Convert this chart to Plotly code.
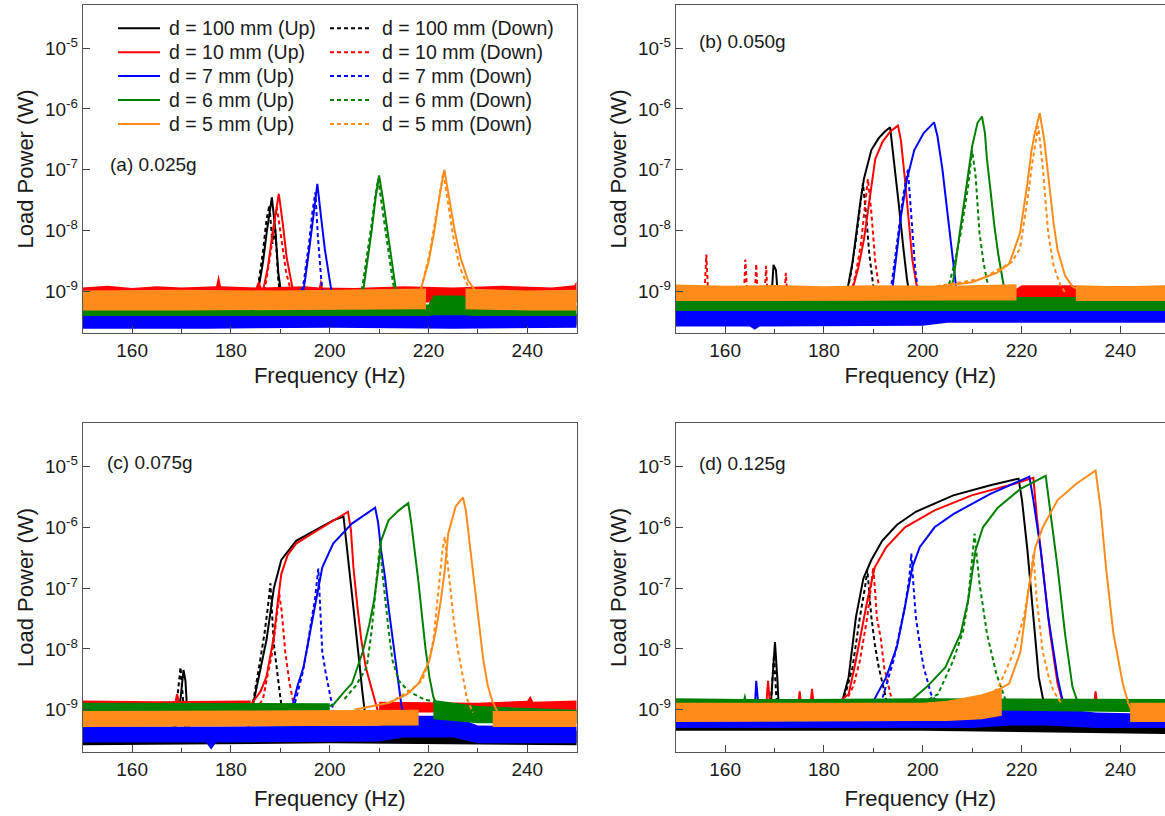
import plotly.graph_objects as go

# ---------------- categories / labels ----------------
SERIES_LABELS = ["d = 100 mm", "d = 10 mm", "d = 7 mm", "d = 6 mm", "d = 5 mm"]
SERIES_COLORS = ["#000000", "#FF0000", "#0000FF", "#008000", "#FF8C1A"]
PANEL_LABELS = ["(a) 0.025g", "(b) 0.050g", "(c) 0.075g", "(d) 0.125g"]
FREQ_TICKS = [160, 180, 200, 220, 240]
FREQ_MINOR = [170, 190, 210, 230]
POWER_TICKS = [1e-9, 1e-8, 1e-7, 1e-6, 1e-5]
POWER_TICKTEXT = ["10<sup>-9</sup>", "10<sup>-8</sup>", "10<sup>-7</sup>", "10<sup>-6</sup>", "10<sup>-5</sup>"]

# sweeps: (frequency Hz, power W); None separates disconnected pieces
# ---------------- panel (a) 0.025g ----------------
A_BLACK_UP = [(184.5, 4e-10), (185.5, 1.0e-9), (186.5, 3e-9), (187.3, 1.0e-8), (188.3, 3.5e-8), (189.0, 1.0e-8),
              (189.6, 2e-9), (190.5, 6e-10), (191.5, 4e-10)]
A_BLACK_DOWN = [(184.8, 4e-10), (185.5, 1.2e-9), (186.5, 4.5e-9), (187.2, 1.5e-8), (187.8, 2.6e-8), (188.4, 6e-9),
                (189.0, 1.0e-8), (189.6, 1.5e-9), (190.3, 5e-10)]
A_RED_UP = [(186.5, 1.0e-9), (187.5, 2.5e-9), (188.5, 1.0e-8), (189.7, 4.0e-8), (190.5, 1.3e-8), (191.3, 3.5e-9),
            (192.5, 1.1e-9)]
A_RED_DOWN = [(186.8, 1.0e-9), (188.0, 4e-9), (189.3, 2.4e-8), (190.2, 8e-9), (191.2, 2e-9), (192.3, 9e-10)]
A_BLUE_UP = [(194.0, 5e-10), (195.0, 1.5e-9), (196.0, 6e-9), (196.8, 2.2e-8), (197.5, 5.8e-8), (198.2, 1.8e-8),
             (199.0, 5e-9), (200.0, 1.5e-9), (201.0, 5e-10)]
A_BLUE_DOWN = [(193.8, 6e-10), (194.8, 1.5e-9), (195.8, 6e-9), (196.5, 2e-8), (197.1, 4.2e-8), (197.6, 8e-9),
               (198.3, 1.5e-9), (199.0, 5e-10)]
A_GREEN_UP = [(206.5, 7e-10), (207.5, 2.5e-9), (208.5, 1.0e-8), (209.3, 3.5e-8), (210.0, 8.0e-8), (210.8, 3.2e-8),
              (211.8, 8e-9), (212.8, 2.2e-9), (213.6, 8e-10)]
A_GREEN_DOWN = [(206.3, 8e-10), (207.4, 3e-9), (208.5, 1.3e-8), (209.2, 3.5e-8), (209.8, 7e-8), (210.5, 2.8e-8),
                (211.5, 7e-9), (212.6, 1.8e-9), (213.3, 8e-10)]
A_ORANGE_UP = [(218.5, 1.1e-9), (220.0, 3e-9), (221.2, 1.0e-8), (222.2, 3.5e-8), (223.2, 1.0e-7), (224.2, 3.5e-8),
               (225.3, 1.0e-8), (226.5, 3.5e-9), (228.0, 1.5e-9), (229.5, 1.0e-9)]
A_ORANGE_DOWN = [(218.5, 1.1e-9), (220.0, 3.5e-9), (221.2, 1.2e-8), (222.2, 4e-8), (223.0, 9e-8), (223.9, 3e-8),
                 (225.0, 8e-9), (226.3, 2.5e-9), (228.0, 1.2e-9)]
# noise floor envelopes: segments of (frequency, lower, upper)
A_BAND_BLACK = [[(150, 2.8e-10, 4.0e-10), (200, 2.9e-10, 4.3e-10), (250, 2.8e-10, 4.0e-10)]]
A_BAND_RED = [[(150, 6.5e-10, 1.15e-9), (155, 6.5e-10, 1.22e-9), (160, 6.5e-10, 1.12e-9), (165, 6.5e-10, 1.2e-9),
               (170, 6.5e-10, 1.15e-9), (177, 6.5e-10, 1.2e-9), (177.5, 6.5e-10, 1.9e-9), (178, 6.5e-10, 1.2e-9),
               (185, 6.5e-10, 1.15e-9), (185.6, 6.5e-10, 1.5e-9), (186.2, 6.5e-10, 1.15e-9), (195, 6.5e-10, 1.2e-9),
               (197.8, 6.5e-10, 1.15e-9), (198.2, 6.5e-10, 1.6e-9), (198.6, 6.5e-10, 1.15e-9),
               (205, 6.5e-10, 1.12e-9), (215, 6.5e-10, 1.2e-9), (225, 6.5e-10, 1.15e-9), (235, 6.5e-10, 1.22e-9),
               (245, 6.5e-10, 1.15e-9), (249.5, 6.5e-10, 1.25e-9), (250, 6.5e-10, 1.45e-9)]]
A_BAND_BLUE = [[(150, 2.4e-10, 4.3e-10), (175, 2.4e-10, 4.4e-10), (200, 2.5e-10, 4.3e-10), (225, 2.4e-10, 4.4e-10),
                (250, 2.5e-10, 4.3e-10)]]
A_BAND_GREEN = [[(150, 3.9e-10, 5.8e-10), (200, 3.9e-10, 5.8e-10), (220, 3.9e-10, 6e-10), (221, 4e-10, 8.5e-10),
                 (227, 4e-10, 8.5e-10), (229, 3.9e-10, 6e-10), (250, 3.9e-10, 5.8e-10)]]
A_BAND_ORANGE = [[(150, 4.8e-10, 1.02e-9), (170, 4.8e-10, 1.05e-9), (190, 4.8e-10, 1.02e-9), (219.5, 5e-10, 1.1e-9)],
                 [(227.5, 5e-10, 1.1e-9), (240, 4.8e-10, 1.02e-9), (250, 4.8e-10, 1.05e-9)]]

# ---------------- panel (b) 0.050g ----------------
B_BLACK_UP = [(169.3, 6e-10), (169.8, 2.7e-9), (170.3, 2.2e-9), (170.8, 6e-10), None, (183.5, 5e-10),
              (184.7, 1.0e-9), (185.8, 3e-9), (186.6, 1.0e-8), (187.4, 3e-8), (188.1, 7e-8), (189.6, 2.1e-7),
              (191.1, 3.3e-7), (192.3, 4.2e-7), (193.4, 5.0e-7), (194.3, 1.2e-7), (195.2, 2.5e-8), (196.1, 5e-9),
              (196.8, 1.6e-9), (197.5, 7e-10)]
B_BLACK_DOWN = [(184.5, 8e-10), (185.5, 2e-9), (186.5, 7e-9), (187.3, 2.5e-8), (187.9, 6e-8), (188.5, 2e-8),
                (189.2, 4e-9), (190.0, 1.2e-9), (191.0, 6e-10)]
B_RED_UP = [(185.7, 1.0e-9), (187.0, 2.5e-9), (188.1, 7e-9), (189.2, 3.2e-8), (190.4, 1.5e-7), (191.9, 2.9e-7),
            (193.5, 4.3e-7), (195.0, 5.3e-7), (195.6, 3e-7), (196.4, 7e-8), (197.2, 1.5e-8), (197.9, 3.3e-9),
            (198.8, 1.2e-9), (199.5, 6e-10)]
B_RED_DOWN = [(155.8, 8e-10), (156.2, 4e-9), (156.6, 8e-10), None, (163.8, 8e-10), (164.1, 3.3e-9), (164.5, 8e-10),
              None, (166.0, 8e-10), (166.3, 2.8e-9), (166.6, 8e-10), None, (168.0, 8e-10), (168.3, 2.6e-9),
              (168.6, 8e-10), None, (172.0, 8e-10), (172.3, 2e-9), (172.6, 8e-10), None, (185.5, 9e-10),
              (186.5, 2e-9), (187.5, 6e-9), (188.3, 2.5e-8), (188.9, 7e-8), (189.6, 2e-8), (190.4, 3e-9),
              (191.2, 1.1e-9), (192.0, 6e-10)]
B_BLUE_UP = [(193.0, 6e-10), (193.8, 1.0e-9), (194.7, 4e-9), (195.6, 1.7e-8), (196.8, 6.9e-8), (198.3, 2.1e-7),
             (200.2, 4e-7), (202.3, 6e-7), (203.0, 3.5e-7), (204.0, 1e-7), (204.7, 3.2e-8), (205.5, 8e-9),
             (206.2, 2.6e-9), (206.8, 1.1e-9), (207.5, 5e-10)]
B_BLUE_DOWN = [(193.0, 6e-10), (193.8, 1.5e-9), (194.5, 4e-9), (195.2, 1.2e-8), (196.0, 3.5e-8), (197.0, 1.0e-7),
               (197.5, 3e-8), (198.0, 8e-9), (198.5, 2.2e-9), (199.2, 8e-10)]
B_GREEN_UP = [(205.0, 8e-10), (206.2, 1.5e-9), (207.3, 7e-9), (208.4, 3.2e-8), (209.3, 1.0e-7), (210.0, 2.4e-7),
              (211.1, 5.9e-7), (212.0, 7.5e-7), (212.6, 4e-7), (213.0, 1.5e-7), (213.8, 4e-8), (214.5, 1.2e-8),
              (215.3, 4e-9), (216.0, 1.8e-9), (216.8, 8e-10)]
B_GREEN_DOWN = [(205.0, 1.0e-9), (206.5, 3e-9), (207.7, 9e-9), (208.5, 2.5e-8), (209.2, 5.3e-8), (210.0, 2.1e-7),
                (210.7, 8e-8), (211.5, 9e-9), (212.3, 3e-9), (213.0, 1.5e-9), (213.8, 8e-10)]
B_ORANGE_UP = [(190.0, 1.0e-9), (200.0, 1.1e-9), (210.0, 1.4e-9), (215.0, 2e-9), (217.5, 2.8e-9), (219.7, 9e-9),
               (221.2, 6e-8), (222.0, 2e-7), (222.7, 4e-7), (223.7, 8.5e-7), (224.6, 3.1e-7), (225.8, 4e-8),
               (226.5, 1.3e-8), (227.3, 4.8e-9), (228.8, 1.8e-9), (230.3, 1.2e-9), (232.0, 1.0e-9)]
B_ORANGE_DOWN = [(200.0, 1.1e-9), (212.0, 1.6e-9), (218.0, 3e-9), (219.7, 5e-9), (221.2, 3.2e-8), (222.3, 1.5e-7),
                 (223.4, 5.2e-7), (224.3, 1.1e-7), (225.4, 9e-9), (226.5, 2.6e-9), (227.8, 1.3e-9), (229.0, 9e-10)]
B_BAND_BLACK = [[(150, 3.2e-10, 5e-10), (250, 3.2e-10, 5e-10)]]
B_BAND_RED = [[(150, 7e-10, 1.2e-9), (205, 6e-10, 1.1e-9), (210, 5.5e-10, 8.5e-10), (217, 5.5e-10, 8.5e-10),
               (220, 7.5e-10, 1.25e-9), (230, 7.5e-10, 1.25e-9), (232, 7e-10, 1.2e-9), (250, 7e-10, 1.2e-9)]]
B_BAND_BLUE = [[(150, 2.6e-10, 4.8e-10), (165, 2.6e-10, 5e-10), (166, 2.3e-10, 5.4e-10), (167, 2.6e-10, 5e-10),
                (200, 2.7e-10, 5e-10), (205, 3e-10, 6.8e-10), (250, 3e-10, 6.2e-10)]]
B_BAND_GREEN = [[(150, 4.7e-10, 8e-10), (200, 4.7e-10, 8e-10), (250, 4.7e-10, 8e-10)]]
B_BAND_ORANGE = [[(150, 6.9e-10, 1.28e-9), (160, 6.9e-10, 1.22e-9), (170, 6.9e-10, 1.26e-9), (180, 6.9e-10, 1.2e-9),
                  (190, 6.9e-10, 1.25e-9), (205, 7e-10, 1.22e-9), (219, 7e-10, 1.3e-9)],
                 [(231, 6.9e-10, 1.25e-9), (240, 6.9e-10, 1.2e-9), (250, 6.9e-10, 1.25e-9)]]

# ---------------- panel (c) 0.075g ----------------
C_BLACK_UP = [(168.8, 5e-10), (169.8, 1.5e-9), (170.4, 4.5e-9), (170.8, 3e-9), (171.2, 8e-10), (171.6, 4e-10), None,
              (183.5, 5e-10), (184.5, 1.2e-9), (185.7, 3.4e-9), (187.2, 1.4e-8), (188.7, 1e-7), (190.2, 2.9e-7),
              (193.2, 6e-7), (197.0, 9e-7), (200.7, 1.3e-6), (202.8, 1.5e-6), (203.6, 4e-7), (204.4, 1e-7),
              (205.2, 2.5e-8), (206.0, 6e-9), (206.6, 2e-9), (207.2, 8e-10)]
C_BLACK_DOWN = [(168.5, 5e-10), (169.3, 2e-9), (169.8, 5e-9), (170.3, 1.5e-9), (170.8, 5e-10), None,
                (183.5, 6e-10), (184.6, 1.5e-9), (185.7, 5e-9), (186.8, 1.8e-8), (187.5, 5e-8), (188.0, 1.2e-7),
                (188.4, 3e-8), (188.7, 1.2e-8), (189.4, 4e-9), (190.2, 1.2e-9), (191.0, 5e-10)]
C_RED_UP = [(168.6, 1.1e-9), (169.1, 1.8e-9), (169.6, 1.1e-9), None, (184.0, 1.2e-9), (186.0, 2e-9), (187.2, 3.5e-9),
            (188.0, 8e-9), (188.7, 1.6e-8), (189.5, 6e-8), (190.2, 1.7e-7), (191.5, 3.5e-7), (193.2, 5.4e-7),
            (197.0, 8.4e-7), (200.7, 1.3e-6), (203.7, 1.8e-6), (204.3, 9e-7), (204.8, 2.2e-7), (205.6, 5e-8),
            (206.4, 1.4e-8), (207.3, 5e-9), (208.2, 2.7e-9), (209.3, 1.2e-9), (210.0, 8e-10)]
C_RED_DOWN = [(185.0, 1e-9), (186.5, 1.5e-9), (187.5, 4e-9), (188.3, 8e-9), (189.2, 3e-8), (189.8, 8e-8),
              (190.3, 4e-8), (191.0, 9e-9), (191.8, 3e-9), (192.5, 1.5e-9), (193.3, 9e-10)]
C_BLUE_UP = [(191.5, 8e-10), (192.5, 1.2e-9), (193.5, 2.5e-9), (194.7, 5e-9), (195.8, 1.5e-8), (197.0, 4.9e-8),
             (198.5, 2.2e-7), (200.7, 5.4e-7), (204.5, 1.15e-6), (209.2, 2.1e-6), (209.8, 1.2e-6), (210.4, 4.2e-7),
             (211.2, 1.5e-7), (211.9, 4.9e-8), (212.7, 1.6e-8), (213.4, 6.5e-9), (214.0, 2.5e-9), (214.5, 1.2e-9),
             (215.2, 6e-10)]
C_BLUE_DOWN = [(192.5, 1e-9), (193.2, 1.5e-9), (194.5, 4e-9), (195.5, 1.1e-8), (196.3, 3e-8), (197.0, 6.3e-8),
               (197.7, 2.1e-7), (198.1, 5e-8), (198.5, 9e-9), (199.2, 4e-9), (200.0, 1.8e-9), (200.8, 9e-10)]
C_GREEN_UP = [(199.0, 1.1e-9), (200.7, 1.2e-9), (203.0, 2e-9), (204.5, 2.7e-9), (206.7, 9e-9), (208.0, 2.5e-8),
              (209.0, 6.3e-8), (209.8, 2e-7), (210.4, 6e-7), (211.9, 1.3e-6), (214.0, 1.9e-6), (215.9, 2.5e-6),
              (216.5, 1.2e-6), (217.2, 4.2e-7), (218.0, 1.2e-7), (218.7, 3.4e-8), (219.4, 1e-8), (220.2, 3.4e-9),
              (221.0, 1.6e-9), (222.0, 1.1e-9)]
C_GREEN_DOWN = [(203.0, 1.5e-9), (205.3, 2.5e-9), (207.5, 5e-9), (208.5, 2e-8), (209.3, 1e-7), (209.8, 3e-7),
                (210.2, 5.4e-7), (210.6, 2e-7), (211.2, 6.3e-8), (212.0, 1.8e-8), (212.7, 6.5e-9), (214.0, 3e-9),
                (216.0, 2e-9), (219.0, 1.5e-9), (222.0, 1.3e-9)]
C_ORANGE_UP = [(205.0, 1e-9), (212.0, 1.3e-9), (215.7, 1.8e-9), (218.0, 2.7e-9), (220.2, 6.5e-9), (221.5, 2e-8),
               (222.5, 6.3e-8), (223.3, 2e-7), (224.0, 7.9e-7), (225.5, 2.2e-6), (227.0, 3.1e-6), (227.6, 1.8e-6),
               (228.1, 7.9e-7), (228.8, 2.5e-7), (229.6, 6.3e-8), (230.3, 2e-8), (231.1, 6.5e-9), (232.0, 2.5e-9),
               (232.9, 1.4e-9), (234.0, 9e-10)]
C_ORANGE_DOWN = [(212.0, 1.3e-9), (216.0, 2e-9), (218.7, 3e-9), (220.0, 6e-9), (221.0, 1.4e-8), (222.1, 1.2e-7),
                 (222.8, 4e-7), (223.3, 7e-7), (223.8, 3e-7), (224.4, 1e-7), (225.1, 3e-8), (225.9, 1e-8),
                 (226.8, 4e-9), (227.8, 1.5e-9), (229.0, 9e-10)]
C_BAND_BLACK = [[(150, 2.6e-10, 4.5e-10), (200, 2.8e-10, 5e-10), (250, 2.6e-10, 4.5e-10)]]
C_BAND_RED = [[(150, 9e-10, 1.42e-9), (165, 9e-10, 1.38e-9), (184, 9e-10, 1.42e-9)],
              [(210, 9e-10, 1.35e-9), (230, 9e-10, 1.3e-9), (240, 9e-10, 1.4e-9), (240.6, 9e-10, 1.7e-9),
               (241.2, 9e-10, 1.35e-9), (250, 9e-10, 1.42e-9)]]
C_BAND_BLUE = [[(150, 2.9e-10, 5.3e-10), (175, 2.9e-10, 5.3e-10), (176, 2.2e-10, 5.3e-10), (177, 2.9e-10, 5.3e-10),
                (210, 3e-10, 5.5e-10), (215, 3.5e-10, 8e-10), (225, 3.5e-10, 8e-10), (230, 2.8e-10, 5.5e-10),
                (250, 2.8e-10, 5.3e-10)]]
C_BAND_GREEN = [[(150, 8e-10, 1.3e-9), (200, 8e-10, 1.28e-9)],
                [(221, 7e-10, 1.45e-9), (230, 6e-10, 1.15e-9), (250, 6e-10, 1.0e-9)]]
C_BAND_ORANGE = [[(150, 5.2e-10, 9.5e-10), (218, 5.5e-10, 1e-9)], [(233, 5.2e-10, 9.5e-10), (250, 5.2e-10, 9.5e-10)]]

# ---------------- panel (d) 0.125g ----------------
D_BLACK_UP = [(169.0, 6e-10), (169.6, 3e-9), (170.1, 1.3e-8), (170.6, 3e-9), (171.0, 6e-10), None, (182.5, 7e-10),
              (183.5, 1.2e-9), (185.0, 3.4e-9), (186.5, 3.4e-8), (188.0, 1.45e-7), (189.6, 2.9e-7), (191.8, 6e-7),
              (194.8, 1.1e-6), (198.6, 1.8e-6), (206.2, 3.35e-6), (213.7, 4.9e-6), (219.4, 6.3e-6), (220.1, 2.8e-6),
              (221.2, 4.2e-7), (222.4, 3.4e-8), (223.5, 3.4e-9), (224.6, 1.2e-9), (225.5, 6e-10)]
D_BLACK_DOWN = [(169.0, 6e-10), (169.6, 4e-9), (169.9, 8e-9), (170.3, 2e-9), (170.8, 6e-10), None, (183.0, 1e-9),
                (184.5, 2e-9), (185.8, 5e-9), (187.3, 3.4e-8), (188.3, 1e-7), (188.8, 2e-7), (189.2, 8e-8),
                (189.6, 3.4e-8), (190.3, 1.2e-8), (191.1, 5e-9), (192.6, 1.5e-9), (193.5, 8e-10)]
D_RED_UP = [(168.3, 1.1e-9), (168.7, 3e-9), (169.1, 1.1e-9), None, (174.8, 1.2e-9), (175.1, 2e-9), (175.4, 1.2e-9),
            None, (177.3, 1.2e-9), (177.6, 2.2e-9), (177.9, 1.2e-9), None, (182.8, 1.3e-9), (185.0, 1.8e-9),
            (186.2, 5e-9), (187.3, 1.4e-8), (188.8, 6.3e-8), (190.3, 2.2e-7), (192.6, 4.7e-7), (196.4, 1e-6),
            (202.4, 1.9e-6), (209.9, 3.35e-6), (217.5, 4.9e-6), (222.4, 6.5e-6), (223.1, 1.5e-6), (224.3, 2.2e-7),
            (225.8, 1.8e-8), (227.3, 2.7e-9), (228.4, 1.3e-9), (229.5, 8e-10), None, (234.7, 1.2e-9),
            (235.0, 2e-9), (235.3, 1.2e-9)]
D_RED_DOWN = [(184.3, 1.3e-9), (186.0, 2.5e-9), (187.3, 6.5e-9), (188.8, 3.4e-8), (189.5, 1e-7), (190.0, 2.2e-7),
              (190.4, 8e-8), (190.7, 3.4e-8), (191.5, 1.5e-8), (192.2, 5e-9), (193.7, 1.5e-9), (194.5, 9e-10)]
D_BLUE_UP = [(166.0, 1.0e-9), (166.3, 3e-9), (166.8, 1e-9), None, (188.5, 1e-9), (189.6, 1.2e-9), (192.6, 3.4e-9),
             (194.8, 1.1e-8), (196.4, 4.9e-8), (197.9, 2.2e-7), (199.4, 4.7e-7), (202.4, 1e-6), (206.2, 1.65e-6),
             (213.7, 3.55e-6), (221.6, 6.8e-6), (222.4, 2.8e-6), (223.9, 4.2e-7), (225.4, 3.4e-8), (227.3, 3.4e-9),
             (228.4, 1.3e-9), (229.3, 8e-10)]
D_BLUE_DOWN = [(190.5, 1e-9), (191.8, 1.5e-9), (194.1, 6.5e-9), (196.4, 4.9e-8), (197.3, 1.5e-7), (197.7, 3.7e-7),
               (198.1, 1.2e-7), (198.6, 3.4e-8), (199.4, 1.2e-8), (200.2, 5e-9), (201.7, 1.8e-9), (203.0, 1.3e-9),
               (207.0, 1.1e-9)]
D_GREEN_UP = [(195.0, 1.2e-9), (197.1, 1.3e-9), (200.9, 2.4e-9), (204.6, 5e-9), (207.7, 1.8e-8), (209.2, 6.3e-8),
              (210.7, 4.2e-7), (212.2, 1e-6), (215.2, 2.1e-6), (219.8, 4.3e-6), (224.9, 7e-6), (225.8, 1.9e-6),
              (227.3, 2.2e-7), (228.8, 1.8e-8), (230.3, 2.4e-9), (231.4, 1.3e-9), (232.5, 1e-9)]
D_GREEN_DOWN = [(200.0, 1.3e-9), (203.1, 1.8e-9), (206.2, 6.5e-9), (208.2, 2e-8), (209.2, 6.3e-8), (210.0, 3e-7),
                (210.5, 7.9e-7), (211.0, 3e-7), (211.5, 1.2e-7), (213.0, 1.8e-8), (214.9, 3.9e-9), (216.7, 1.5e-9),
                (218.0, 1.2e-9)]
D_ORANGE_UP = [(200.0, 1.1e-9), (208.0, 1.4e-9), (213.7, 1.8e-9), (217.5, 2.7e-9), (219.8, 9e-9), (221.3, 8e-8),
               (222.8, 4.7e-7), (224.3, 1e-6), (227.3, 2.8e-6), (231.1, 5.2e-6), (235.0, 8.6e-6), (236.0, 2.1e-6),
               (237.1, 2.2e-7), (238.6, 1.8e-8), (240.5, 2.7e-9), (241.6, 1.3e-9), (242.5, 9e-10)]
D_ORANGE_DOWN = [(205.0, 1.2e-9), (212.0, 1.6e-9), (215.2, 2.2e-9), (218.2, 8e-9), (220.5, 3.4e-8), (221.8, 1.5e-7),
                 (222.4, 3.7e-7), (222.8, 1.5e-7), (223.1, 6.3e-8), (224.3, 9e-9), (225.5, 3.5e-9), (226.5, 2e-9),
                 (228.0, 1.3e-9)]
D_BAND_BLACK = [[(150, 4.5e-10, 7e-10), (200, 4.5e-10, 7e-10), (250, 4e-10, 7e-10)]]
D_BAND_RED = [[(150, 1e-9, 1.4e-9), (180, 1e-9, 1.42e-9), (250, 1e-9, 1.38e-9)]]
D_BAND_BLUE = [[(150, 5e-10, 8.5e-10), (200, 5e-10, 8.5e-10), (210, 5e-10, 9e-10), (218, 5.5e-10, 1.2e-9),
                (225, 5.5e-10, 1.1e-9), (235, 5e-10, 9e-10), (250, 5e-10, 8.5e-10)]]
D_BAND_GREEN = [[(150, 1.0e-9, 1.55e-9), (163.7, 1.0e-9, 1.5e-9), (164.0, 1.0e-9, 1.9e-9), (164.3, 1.0e-9, 1.5e-9),
                 (175, 1.0e-9, 1.5e-9), (200, 1.0e-9, 1.55e-9), (250, 9e-10, 1.5e-9)]]
D_BAND_ORANGE = [[(150, 6.3e-10, 1.3e-9), (200, 6.5e-10, 1.3e-9), (205, 6.5e-10, 1.4e-9), (212, 7e-10, 1.8e-9),
                  (216, 8e-10, 2.3e-9)], [(242, 6.3e-10, 1.3e-9), (250, 6.3e-10, 1.3e-9)]]

PANELS = [
    dict(up=[A_BLACK_UP, A_RED_UP, A_BLUE_UP, A_GREEN_UP, A_ORANGE_UP],
         down=[A_BLACK_DOWN, A_RED_DOWN, A_BLUE_DOWN, A_GREEN_DOWN, A_ORANGE_DOWN],
         bands=[A_BAND_BLACK, A_BAND_RED, A_BAND_BLUE, A_BAND_GREEN, A_BAND_ORANGE]),
    dict(up=[B_BLACK_UP, B_RED_UP, B_BLUE_UP, B_GREEN_UP, B_ORANGE_UP],
         down=[B_BLACK_DOWN, B_RED_DOWN, B_BLUE_DOWN, B_GREEN_DOWN, B_ORANGE_DOWN],
         bands=[B_BAND_BLACK, B_BAND_RED, B_BAND_BLUE, B_BAND_GREEN, B_BAND_ORANGE]),
    dict(up=[C_BLACK_UP, C_RED_UP, C_BLUE_UP, C_GREEN_UP, C_ORANGE_UP],
         down=[C_BLACK_DOWN, C_RED_DOWN, C_BLUE_DOWN, C_GREEN_DOWN, C_ORANGE_DOWN],
         bands=[C_BAND_BLACK, C_BAND_RED, C_BAND_BLUE, C_BAND_GREEN, C_BAND_ORANGE]),
    dict(up=[D_BLACK_UP, D_RED_UP, D_BLUE_UP, D_GREEN_UP, D_ORANGE_UP],
         down=[D_BLACK_DOWN, D_RED_DOWN, D_BLUE_DOWN, D_GREEN_DOWN, D_ORANGE_DOWN],
         bands=[D_BAND_BLACK, D_BAND_RED, D_BAND_BLUE, D_BAND_GREEN, D_BAND_ORANGE]),
]

# ---------------- layout geometry (pixels) ----------------
W, H = 1165, 816
FONT = "Liberation Sans, Arial, Helvetica, sans-serif"
X_DOMAINS = [(82.7, 576.7), (675.7, 1165), (82.7, 576.7), (675.7, 1165)]
Y_DOMAINS = [(5, 333), (5, 333), (423.3, 751.7), (423.3, 751.7)]
X_RANGES = [(150, 250), (150, 249.05), (150, 250), (150, 249.05)]
X_TITLE_STANDOFF = [7, 7, 12, 12]
Y_RANGE = (-9.69, -4.29)
LABEL_POS = [(108, 165), (697, 41), (105, 462), (697, 463)]
DOWN_DASH = "4px,3px"

fig = go.Figure()


def band_polygon(segments):
    xs, ys = [], []
    for seg in segments:
        f = [p[0] for p in seg]
        lo = [p[1] for p in seg]
        hi = [p[2] for p in seg]
        xs += f + f[::-1] + [f[0], None]
        ys += hi + lo[::-1] + [hi[0], None]
    return xs, ys


def split_xy(pts):
    return [p[0] if p else None for p in pts], [p[1] if p else None for p in pts]


for i, panel in enumerate(PANELS):
    ax = "" if i == 0 else str(i + 1)
    xa, ya = "x" + ax, "y" + ax
    for j in range(5):
        # noise floor of this series
        xs, ys = band_polygon(panel["bands"][j])
        fig.add_trace(go.Scatter(x=xs, y=ys, xaxis=xa, yaxis=ya, mode="lines", fill="toself",
                                 fillcolor=SERIES_COLORS[j], line=dict(width=0, color=SERIES_COLORS[j]),
                                 hoverinfo="skip", showlegend=False))
        ux, uy = split_xy(panel["up"][j])
        dx, dy = split_xy(panel["down"][j])
        fig.add_trace(go.Scatter(x=ux, y=uy, xaxis=xa, yaxis=ya, mode="lines", connectgaps=False,
                                 line=dict(color=SERIES_COLORS[j], width=2),
                                 name=SERIES_LABELS[j] + " (Up)", showlegend=False))
        fig.add_trace(go.Scatter(x=dx, y=dy, xaxis=xa, yaxis=ya, mode="lines", connectgaps=False,
                                 line=dict(color=SERIES_COLORS[j], width=2, dash=DOWN_DASH),
                                 name=SERIES_LABELS[j] + " (Down)", showlegend=False))

layout = dict(width=W, height=H, margin=dict(l=0, r=0, t=0, b=0), paper_bgcolor="white", plot_bgcolor="white",
              font=dict(family=FONT, color="#1a1a1a"), showlegend=False)

for i in range(4):
    ax = "" if i == 0 else str(i + 1)
    x0, x1 = X_DOMAINS[i]
    y0, y1 = Y_DOMAINS[i]
    right_cut = i in (1, 3)
    layout["xaxis" + ax] = dict(
        domain=[x0 / W, min(1.0, x1 / W)], range=list(X_RANGES[i]), anchor="y" + ax,
        tickmode="array", tickvals=FREQ_TICKS, ticks="inside", ticklen=7, tickwidth=1, tickcolor="#444",
        minor=dict(tickmode="array", tickvals=FREQ_MINOR, ticks="inside", ticklen=4, tickcolor="#444"),
        showline=True, linecolor="#555", linewidth=1, mirror=True, showgrid=False, zeroline=False,
        tickfont=dict(size=19, family=FONT, color="#1a1a1a"),
        title=dict(text="Frequency (Hz)", font=dict(size=22, family=FONT, color="#1a1a1a"),
                   standoff=X_TITLE_STANDOFF[i]))
    layout["yaxis" + ax] = dict(
        domain=[1 - y1 / H, 1 - y0 / H], type="log", range=list(Y_RANGE), anchor="x" + ax,
        tickmode="array", tickvals=POWER_TICKS, ticktext=POWER_TICKTEXT, ticks="inside", ticklen=7, tickwidth=1,
        tickcolor="#444", showline=True, linecolor="#555", linewidth=1, mirror=not right_cut,
        showgrid=False, zeroline=False, tickfont=dict(size=19, family=FONT, color="#1a1a1a"),
        title=dict(text="Load Power (W)", font=dict(size=22, family=FONT, color="#1a1a1a"), standoff=5))

annotations = []
for i, (px, py) in enumerate(LABEL_POS):
    annotations.append(dict(x=px / W, y=1 - py / H, xref="paper", yref="paper", xanchor="left", yanchor="middle",
                            text=PANEL_LABELS[i], showarrow=False, font=dict(size=19, family=FONT, color="#1a1a1a")))

# two-column legend inside panel (a)
LEG_ROWS = [28.3, 52.3, 76.0, 100.0, 124.0]
LEG_COLS = [(118, 160, 167, " (Up)", None), (330, 370, 380, " (Down)", DOWN_DASH)]
shapes = []
for (lx0, lx1, tx, suffix, dash) in LEG_COLS:
    for j, ry in enumerate(LEG_ROWS):
        line = dict(color=SERIES_COLORS[j], width=2)
        if dash:
            line["dash"] = dash
        shapes.append(dict(type="line", xref="paper", yref="paper", x0=lx0 / W, x1=lx1 / W,
                           y0=1 - ry / H, y1=1 - ry / H, line=line))
        annotations.append(dict(x=tx / W, y=1 - ry / H, xref="paper", yref="paper", xanchor="left",
                                yanchor="middle", text=SERIES_LABELS[j] + suffix, showarrow=False,
                                font=dict(size=19.5, family=FONT, color="#1a1a1a")))

layout["annotations"] = annotations
layout["shapes"] = shapes
fig.update_layout(**layout)

fig.write_html("out.html", config={"displayModeBar": False},
               post_script="document.body.style.margin='0';")
